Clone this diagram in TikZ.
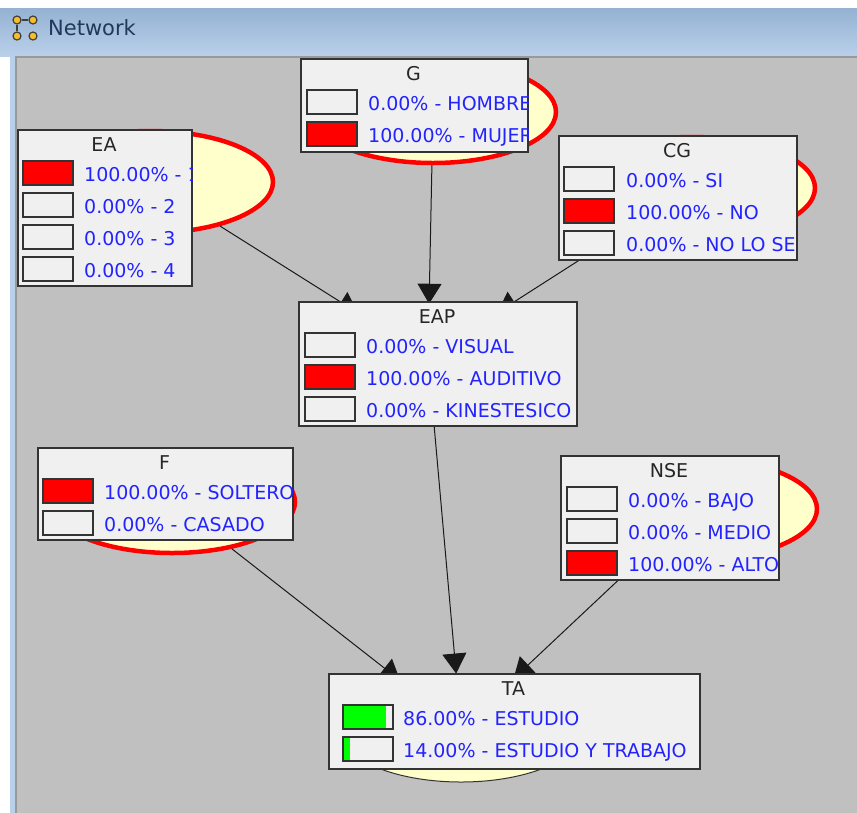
\documentclass[tikz,border=0pt]{standalone}
\usepackage{fontspec}
\setmainfont{DejaVu Sans}
\usetikzlibrary{positioning, shapes.geometric, arrows.meta}

\definecolor{canvasgray}{RGB}{192,192,192}
\definecolor{panelbg}{RGB}{240,240,240}
\definecolor{evred}{RGB}{255,0,0}
\definecolor{beliefyellow}{RGB}{255,255,204}
\definecolor{valblue}{RGB}{35,35,255}
\definecolor{probgreen}{RGB}{0,255,0}
\definecolor{captop}{RGB}{149,178,210}
\definecolor{capbot}{RGB}{185,208,234}
\definecolor{capink}{RGB}{30,57,91}
\definecolor{iconyellow}{RGB}{245,190,40}

\tikzset{
    belief/.style={ellipse, draw=evred, line width=4.5pt, fill=beliefyellow, minimum width=246pt, minimum height=102pt, inner sep=0pt},
    panel/.style={rectangle, draw=black!80, line width=1.5pt, fill=panelbg, anchor=north west, inner sep=0pt},
    head/.style={inner sep=0pt, anchor=base, text=black!85, font=\fontsize{19}{22}\selectfont},
    val/.style={inner sep=0pt, anchor=base west, text=valblue, font=\fontsize{19}{22}\selectfont},
    barline/.style={draw=black!80, line width=1.5pt},
    link/.style={draw=black!90, line width=1pt, -{Triangle[length=20pt, width=24pt]}},
    dot/.style={circle, draw=black!75, fill=iconyellow, line width=1.2pt, minimum size=8pt, inner sep=0pt}
}

\begin{document}
\begin{tikzpicture}[x=1pt, y=-1pt]
    \useasboundingbox (0,0) rectangle (857,812);
    % window frame
    \fill[white] (0,0) rectangle (870,830);
    \shade[top color=captop, bottom color=capbot] (0,8) rectangle (870,56);
    \fill[capbot] (10,56) rectangle (15,830);
    \fill[canvasgray] (15,56) rectangle (870,830);
    \draw[black!40, line width=2pt] (15.5,830) -- (15.5,57) -- (870,57);
    \node[dot] (i1) at (17,20) {};
    \node[dot] (i2) at (33,20) {};
    \node[dot] (i3) at (17,36) {};
    \node[dot] (i4) at (33,36) {};
    \draw[black!75, line width=1.5pt] (i1) -- (i2);
    \draw[black!75, line width=1.5pt] (i1) -- (i3);
    \node[anchor=base west, inner sep=0pt, text=capink, font=\fontsize{21}{24}\selectfont] (caption) at (48,35) {Network};

    % beliefs
    \node[belief] (ea) at (150,182) {};
    \node[belief] (g) at (433,112) {};
    \node[belief] (cg) at (692,188) {};
    \node[belief] (eap) at (428,357) {};
    \node[belief] (f) at (172,502) {};
    \node[belief] (nse) at (694,509) {};
    \node[belief, draw=black!80, line width=1pt, minimum width=247pt, minimum height=108pt] (ta) at (461,728) {};

    \draw[link] (ea) -- (eap);
    \draw[link] (g) -- (eap);
    \draw[link] (cg) -- (eap);
    \draw[link] (eap) -- (ta);
    \draw[link] (f) -- (ta);
    \draw[link] (nse) -- (ta);

    % EA
    \node[panel, minimum width=174pt, minimum height=156pt] (ea box) at (17,129) {};
    \node[head] (ea title) at (104,151) {EA};
    \begin{scope}
        \clip (ea box.south west) rectangle (ea box.north east);
        \foreach \p/\t [count=\i from 0] in {100/1, 0/2, 0/3, 0/4} {
            \fill[evred] (23,{161+32*\i}) rectangle ++({\p/2},24);
            \draw[barline] (23,{161+32*\i}) rectangle ++(50,24);
            \node[val] (ea v\i) at (84,{181+32*\i}) {\p.00\% - \t};
        }
    \end{scope}

    % G
    \node[panel, minimum width=227pt, minimum height=93pt] (g box) at (300,58) {};
    \node[head] (g title) at (413.5,80) {G};
    \begin{scope}
        \clip (g box.south west) rectangle (g box.north east);
        \foreach \p/\t [count=\i from 0] in {0/HOMBRE, 100/MUJER} {
            \fill[evred] (307,{90+32*\i}) rectangle ++({\p/2},24);
            \draw[barline] (307,{90+32*\i}) rectangle ++(50,24);
            \node[val] (g v\i) at (368,{110+32*\i}) {\p.00\% - \t};
        }
    \end{scope}

    % CG
    \node[panel, minimum width=238pt, minimum height=124pt] (cg box) at (558,135) {};
    \node[head] (cg title) at (677,157) {CG};
    \begin{scope}
        \clip (cg box.south west) rectangle (cg box.north east);
        \foreach \p/\t [count=\i from 0] in {0/SI, 100/NO, 0/NO LO SE} {
            \fill[evred] (564,{167+32*\i}) rectangle ++({\p/2},24);
            \draw[barline] (564,{167+32*\i}) rectangle ++(50,24);
            \node[val] (cg v\i) at (626,{187+32*\i}) {\p.00\% - \t};
        }
    \end{scope}

    % EAP
    \node[panel, minimum width=278pt, minimum height=124pt] (eap box) at (298,301) {};
    \node[head] (eap title) at (437,323) {EAP};
    \begin{scope}
        \clip (eap box.south west) rectangle (eap box.north east);
        \foreach \p/\t [count=\i from 0] in {0/VISUAL, 100/AUDITIVO, 0/KINESTESICO} {
            \fill[evred] (305,{333+32*\i}) rectangle ++({\p/2},24);
            \draw[barline] (305,{333+32*\i}) rectangle ++(50,24);
            \node[val] (eap v\i) at (366,{353+32*\i}) {\p.00\% - \t};
        }
    \end{scope}

    % F
    \node[panel, minimum width=255pt, minimum height=92pt] (f box) at (37,447) {};
    \node[head] (f title) at (164.5,469) {F};
    \begin{scope}
        \clip (f box.south west) rectangle (f box.north east);
        \foreach \p/\t [count=\i from 0] in {100/SOLTERO, 0/CASADO} {
            \fill[evred] (43,{479+32*\i}) rectangle ++({\p/2},24);
            \draw[barline] (43,{479+32*\i}) rectangle ++(50,24);
            \node[val] (f v\i) at (104,{499+32*\i}) {\p.00\% - \t};
        }
    \end{scope}

    % NSE
    \node[panel, minimum width=218pt, minimum height=124pt] (nse box) at (560,455) {};
    \node[head] (nse title) at (669,477) {NSE};
    \begin{scope}
        \clip (nse box.south west) rectangle (nse box.north east);
        \foreach \p/\t [count=\i from 0] in {0/BAJO, 0/MEDIO, 100/ALTO} {
            \fill[evred] (567,{487+32*\i}) rectangle ++({\p/2},24);
            \draw[barline] (567,{487+32*\i}) rectangle ++(50,24);
            \node[val] (nse v\i) at (628,{507+32*\i}) {\p.00\% - \t};
        }
    \end{scope}

    % TA
    \node[panel, minimum width=371pt, minimum height=95pt] (ta box) at (328,673) {};
    \node[head] (ta title) at (513.5,695) {TA};
    \begin{scope}
        \clip (ta box.south west) rectangle (ta box.north east);
        \foreach \p/\t [count=\i from 0] in {86/ESTUDIO, 14/ESTUDIO Y TRABAJO} {
            \fill[probgreen] (343,{705+32*\i}) rectangle ++({\p/2},24);
            \draw[barline] (343,{705+32*\i}) rectangle ++(50,24);
            \node[val] (ta v\i) at (403,{725+32*\i}) {\p.00\% - \t};
        }
    \end{scope}
\end{tikzpicture}
\end{document}
